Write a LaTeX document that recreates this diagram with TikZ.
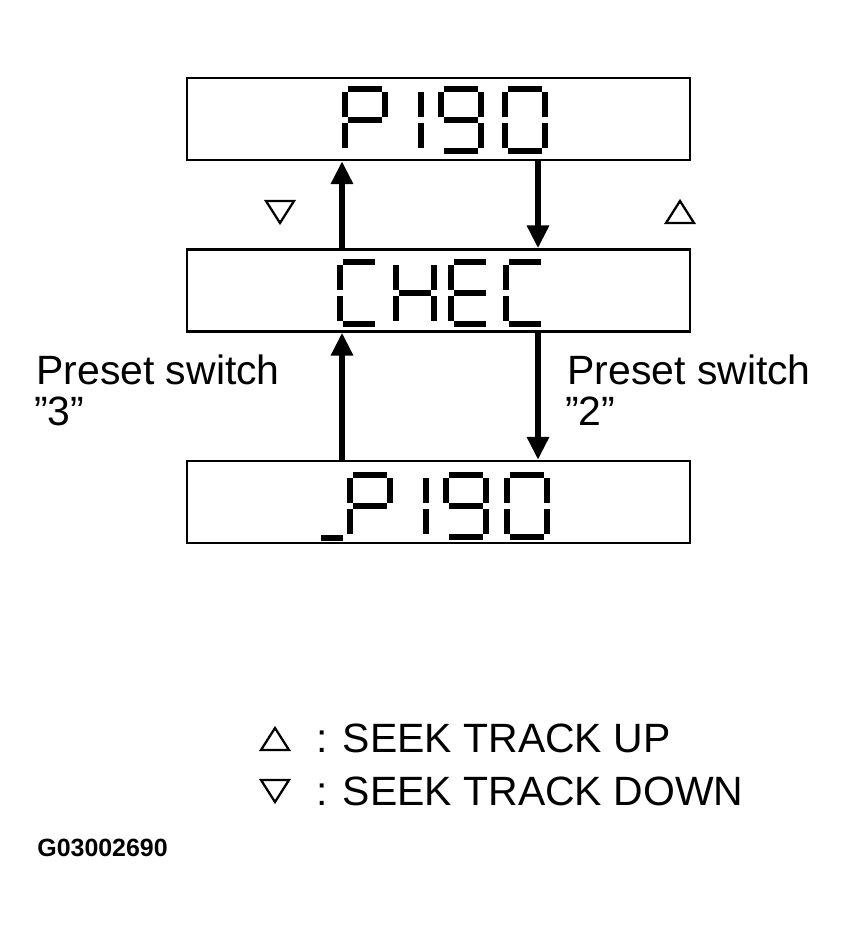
\documentclass[tikz,border=0pt]{standalone}
\usepackage{fontspec}
\setmainfont{Liberation Sans}
\usetikzlibrary{arrows.meta}
\tikzset{
  lcd/.style={draw,line width=1.4pt,minimum width=10.06cm,minimum height=1.64cm,inner sep=0pt},
  seg/.style={line width=3pt,line cap=butt,shorten >=1.8pt,shorten <=1.8pt},
  flow/.style={line width=3.4pt,-{Triangle[length=13pt,width=12pt]}},
  tri/.style={line width=1.3pt,line join=miter},
  lbl/.style={font=\fontsize{23.3}{27}\selectfont,anchor=west,inner sep=0pt}
}
% segment lists of the display characters
\def\chP{tl/tr,tr/mr,ml/mr,tl/ml,ml/bl}
\def\chNine{tl/tr,tr/mr,mr/br,bl/br,tl/ml,ml/mr}
\def\chZero{tl/tr,tr/mr,mr/br,bl/br,ml/bl,tl/ml}
\def\chC{tl/tr,bl/br,ml/bl,tl/ml}
\def\chH{tr/mr,mr/br,ml/bl,tl/ml,ml/mr}
\def\chE{tl/tr,bl/br,ml/bl,tl/ml,ml/mr}
\def\chOne{tr/mr,mr/br}
\def\chBar{bl/br}
\newcommand\lcdchar[4]{% x, y, width, segments
  \begin{scope}[shift={(#1,#2)}]
    \coordinate (tl) at (0,0); \coordinate (tr) at (#3,0);
    \coordinate (ml) at (0,31); \coordinate (mr) at (#3,31);
    \coordinate (bl) at (0,62); \coordinate (br) at (#3,62);
    \foreach \u/\v in #4 {\draw[seg] (\u) -- (\v);}
  \end{scope}}
\begin{document}
\begin{tikzpicture}[x=0.02cm,y=-0.02cm]
  \useasboundingbox (0,0) rectangle (850,929);
  \node[lcd] (top) at (438.5,119) {};
  \node[lcd] (mid) at (438.5,290.5) {};
  \node[lcd] (bot) at (438.5,502) {};
  % display texts
  \lcdchar{345}{89}{40}{\chP}
  \lcdchar{381}{89}{40}{\chOne}
  \lcdchar{441}{89}{40}{\chNine}
  \lcdchar{505}{89}{40}{\chZero}
  \lcdchar{340}{262}{38}{\chC}
  \lcdchar{396}{262}{38}{\chH}
  \lcdchar{451}{262}{38}{\chE}
  \lcdchar{506}{262}{38}{\chC}
  \lcdchar{318}{476}{28}{\chBar}
  \lcdchar{350}{475}{40}{\chP}
  \lcdchar{386}{475}{40}{\chOne}
  \lcdchar{446}{475}{40}{\chNine}
  \lcdchar{507}{475}{40}{\chZero}
  \coordinate (upx) at (342,0);
  \coordinate (dnx) at (538,0);
  \draw[flow] (mid.north -| upx) -- (top.south -| upx);
  \draw[flow] (top.south -| dnx) -- (mid.north -| dnx);
  \draw[flow] (bot.north -| upx) -- (mid.south -| upx);
  \draw[flow] (mid.south -| dnx) -- (bot.north -| dnx);
  % seek marks
  \draw[tri] (266,201) -- (294,201) -- (280,223) -- cycle;
  \draw[tri] (666,223) -- (694,223) -- (680,201) -- cycle;
  \node[lbl] (pl) at (36,370) {Preset switch};
  \node[lbl] (pl3) at (34,411) {”3”};
  \node[lbl] (pr) at (567,370) {Preset switch};
  \node[lbl] (pr2) at (565,411) {”2”};
  % legend
  \draw[tri] (261,750) -- (289,750) -- (275,728) -- cycle;
  \draw[tri] (261,780) -- (289,780) -- (275,802) -- cycle;
  \node[lbl] (up) at (316,738) {: SEEK TRACK UP};
  \node[lbl] (dn) at (316,791) {: SEEK TRACK DOWN};
  \node[anchor=west,inner sep=0pt,font=\fontsize{14.2}{16}\selectfont\bfseries] (code) at (37,848) {G03002690};
\end{tikzpicture}
\end{document}
